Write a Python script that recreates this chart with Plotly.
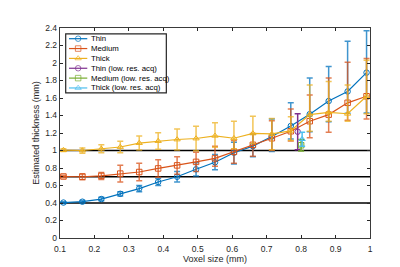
import plotly.graph_objects as go

voxel = [0.11, 0.165, 0.22, 0.275, 0.33, 0.385, 0.44, 0.495, 0.55, 0.605,
         0.66, 0.715, 0.77, 0.825, 0.88, 0.935, 0.99]

thin = [0.405, 0.415, 0.445, 0.505, 0.565, 0.64, 0.70, 0.785, 0.865, 0.975,
        1.05, 1.16, 1.28, 1.415, 1.565, 1.675, 1.89]
thin_up = [0.01, 0.015, 0.02, 0.025, 0.035, 0.04, 0.06, 0.075, 0.09, 0.12,
           0.14, 0.2, 0.265, 0.415, 0.395, 0.575, 0.48]
thin_dn = [0.01, 0.015, 0.02, 0.025, 0.035, 0.04, 0.06, 0.075, 0.085, 0.13,
           0.12, 0.17, 0.15, 0.2, 0.235, 0.25, 0.46]

medium = [0.703, 0.70, 0.71, 0.736, 0.754, 0.795, 0.83, 0.87, 0.91, 0.985,
          1.065, 1.14, 1.22, 1.335, 1.41, 1.545, 1.62]
medium_up = [0.015, 0.035, 0.04, 0.095, 0.1, 0.1, 0.1, 0.11, 0.14, 0.13,
             0.13, 0.2, 0.255, 0.3, 0.42, 0.465, 0.43]
medium_dn = [0.015, 0.035, 0.04, 0.095, 0.1, 0.1, 0.1, 0.11, 0.09, 0.13,
             0.13, 0.14, 0.11, 0.19, 0.2, 0.2, 0.26]

thick = [1.005, 1.0, 1.02, 1.04, 1.085, 1.108, 1.126, 1.137, 1.168, 1.14,
         1.195, 1.19, 1.225, 1.41, 1.435, 1.42, 1.62]
thick_up = [0.015, 0.03, 0.045, 0.065, 0.08, 0.095, 0.12, 0.14, 0.15, 0.195,
            0.195, 0.175, 0.16, 0.34, 0.355, 0.33, 0.41]
thick_dn = [0.015, 0.03, 0.045, 0.065, 0.08, 0.095, 0.12, 0.14, 0.13, 0.12,
            0.115, 0.18, 0.11, 0.19, 0.1, 0.085, 0.2]

low_x = [0.79, 0.80, 0.803]
low_y = [1.215, 1.06, 1.13]
low_err = [0.205, 0.065, 0.08]

truth = [0.4, 0.7, 1.0]

names = ["Thin", "Medium", "Thick"]
colors = ["#0072BD", "#D95319", "#EDB120"]
bar_colors = ["rgba(0,114,189,0.75)", "rgba(217,83,25,0.75)", "rgba(237,177,32,0.75)"]
symbols = ["circle-open", "square-open", "triangle-up-open"]

low_names = ["Thin (low. res. acq)", "Medium (low. res. acq)", "Thick (low. res. acq)"]
low_colors = ["#7E2F8E", "#77AC30", "#4DBEEE"]

fig = go.Figure()

for t in truth:
    fig.add_trace(go.Scatter(x=[0.1, 1.0], y=[t, t], mode="lines",
                             line=dict(color="black", width=1.6),
                             showlegend=False, hoverinfo="skip"))

series = [(thin, thin_up, thin_dn), (medium, medium_up, medium_dn), (thick, thick_up, thick_dn)]
for i, (vals, up, dn) in enumerate(series):
    fig.add_trace(go.Scatter(
        x=voxel, y=vals, name=names[i], mode="lines+markers",
        line=dict(color=colors[i], width=1.2),
        marker=dict(symbol=symbols[i], size=5.5, color=colors[i], line=dict(width=1)),
        error_y=dict(type="data", symmetric=False, array=up, arrayminus=dn,
                     color=bar_colors[i], thickness=1.5, width=3),
        showlegend=False,
    ))

for i in range(3):
    fig.add_trace(go.Scatter(
        x=[low_x[i]], y=[low_y[i]], name=low_names[i], mode="lines+markers",
        line=dict(color=low_colors[i], width=1.2),
        marker=dict(symbol=symbols[i], size=5.5, color=low_colors[i], line=dict(width=1)),
        error_y=dict(type="data", array=[low_err[i]], color=low_colors[i],
                     thickness=1.5, width=3),
        showlegend=False,
    ))

# ---- compact legend (MATLAB style) drawn on an overlay axis in plot-area fractions ----
leg_names = names + low_names
leg_colors = colors + low_colors
leg_symbols = symbols + symbols
leg_x0, leg_x1 = 0.0184, 0.343
leg_top, leg_bot = 0.9725, 0.691
row_h = (leg_top - leg_bot) / 6.0
for i in range(6):
    yy = leg_top - row_h * (i + 0.5)
    fig.add_trace(go.Scatter(
        x=[0.029, 0.0585, 0.088], y=[yy, yy, yy], xaxis="x2", yaxis="y2",
        mode="lines+markers", line=dict(color=leg_colors[i], width=1.2),
        marker=dict(symbol=leg_symbols[i], size=[0, 5.5, 0], color=leg_colors[i], line=dict(width=1)),
        showlegend=False, hoverinfo="skip"))
    fig.add_annotation(x=0.094, y=yy, xref="x2", yref="y2", text=leg_names[i],
                       showarrow=False, xanchor="left", yanchor="middle",
                       font=dict(family="Liberation Sans, Arial", size=7.8, color="black"))
fig.add_shape(type="rect", xref="x2", yref="y2", x0=leg_x0, x1=leg_x1, y0=leg_bot, y1=leg_top,
              line=dict(color="#262626", width=1.2), fillcolor="white", layer="below")

axis_common = dict(showline=True, linecolor="#3a3a3a", linewidth=1.4, mirror="ticks",
                   ticks="inside", ticklen=3, tickcolor="#262626", showgrid=False,
                   zeroline=False, tickfont=dict(family="Liberation Sans, Arial", size=8.5, color="#262626"))

fig.update_layout(
    width=400, height=267,
    margin=dict(l=52, r=38, t=20, b=29),
    paper_bgcolor="white", plot_bgcolor="white",
    font=dict(family="Liberation Sans, Arial", color="#262626"),
    xaxis=dict(range=[0.1, 1.0], tickvals=[0.1, 0.2, 0.3, 0.4, 0.5, 0.6, 0.7, 0.8, 0.9, 1.0],
               ticktext=["0.1", "0.2", "0.3", "0.4", "0.5", "0.6", "0.7", "0.8", "0.9", "1"],
               ticklabelstandoff=3,
               title=dict(text="Voxel size (mm)", font=dict(size=9), standoff=2), **axis_common),
    yaxis=dict(range=[0, 2.4], tickvals=[0, 0.2, 0.4, 0.6, 0.8, 1.0, 1.2, 1.4, 1.6, 1.8, 2.0, 2.2, 2.4],
               ticktext=["0", "0.2", "0.4", "0.6", "0.8", "1", "1.2", "1.4", "1.6", "1.8", "2", "2.2", "2.4"],
               title=dict(text="Estimated thickness (mm)", font=dict(size=9), standoff=4), **axis_common),
    xaxis2=dict(range=[0, 1], overlaying="x", anchor="y2", visible=False, fixedrange=True),
    yaxis2=dict(range=[0, 1], overlaying="y", anchor="x2", visible=False, fixedrange=True),
    showlegend=False,
)

fig.write_html("out.html")
